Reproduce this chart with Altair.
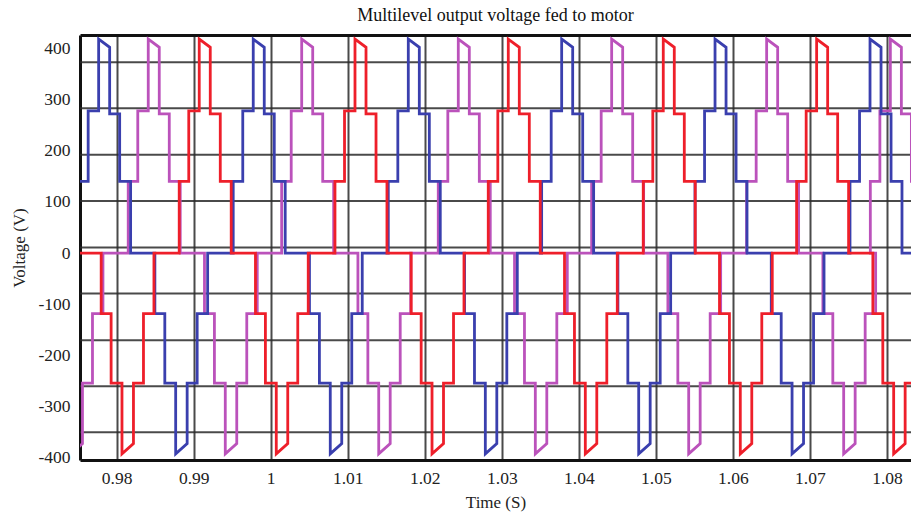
import altair as alt
import pandas as pd

# ---- values ----
TIME_TICKS = [0.98, 0.99, 1.0, 1.01, 1.02, 1.03, 1.04, 1.05, 1.06, 1.07, 1.08]
VOLT_TICKS = [-400, -300, -200, -100, 0, 100, 200, 300, 400]
GRID_VOLTS = [373, 283, 192, 102, 11, -79, -170, -260, -350]

# step pattern of one cycle, times relative to the rising edge of the peak (s)
STEP_OFFSETS = [-0.00260, -0.00136, 0.0, 0.00143, 0.00273, 0.00415,
                0.00730, 0.00859, 0.01000, 0.01149, 0.01279, 0.01415]
LEVEL_START = [140, 278, 418, 272, 140, 0, -118, -254, -392, -254, -118, 0]
LEVEL_END = [140, 278, 402, 272, 140, 0, -118, -254, -372, -254, -118, 0]

# peak rising-edge times of each phase (s)
BLUE_PEAKS = [0.95763, 0.97766, 0.99773, 1.01786, 1.03777, 1.05768, 1.07780]
MAGENTA_PEAKS = [0.96407, 0.98410, 1.00402, 1.02435, 1.04426, 1.06438, 1.08044]
RED_PEAKS = [0.97069, 0.99072, 1.01094, 1.03084, 1.05096, 1.07087]

PHASES = [("magenta", MAGENTA_PEAKS), ("blue", BLUE_PEAKS), ("red", RED_PEAKS)]
COLORS = {"blue": "#3a3fae", "magenta": "#bb52bb", "red": "#ee1f2a"}

rows = []
for name, peaks in PHASES:
    k = 0
    for ci, tp in enumerate(peaks):
        n = len(STEP_OFFSETS)
        for i in range(n):
            t0 = tp + STEP_OFFSETS[i]
            if i + 1 < n:
                t1 = tp + STEP_OFFSETS[i + 1]
            elif ci + 1 < len(peaks):
                t1 = peaks[ci + 1] + STEP_OFFSETS[0]
            else:
                t1 = t0 + 0.006
            rows.append({"phase": name, "t": t0, "v": LEVEL_START[i], "k": k}); k += 1
            rows.append({"phase": name, "t": t1, "v": LEVEL_END[i], "k": k}); k += 1
df = pd.DataFrame(rows)

XMIN, XMAX = 0.97524, 1.08312
YMIN, YMAX = -404, 426
FONT = "Liberation Serif"
FRAME = "#111"

x_scale = alt.Scale(domain=[XMIN, XMAX], nice=False, zero=False)
y_scale = alt.Scale(domain=[YMIN, YMAX], nice=False, zero=False)

y_axis = alt.Axis(values=VOLT_TICKS, title="Voltage (V)",
                  labelExpr="'' + datum.value",
                  grid=False, ticks=False, domain=True,
                  domainColor=FRAME, domainWidth=3,
                  labelPadding=10, titlePadding=9)

x_axis_bottom = alt.Axis(values=TIME_TICKS, title="Time (S)",
                         labelExpr="'' + datum.value",
                         grid=True, gridColor="#2a2a2a", gridWidth=2,
                         gridOpacity=0.85, ticks=False, domain=True,
                         domainColor=FRAME, domainWidth=3,
                         labelPadding=9, titlePadding=8)

x_axis_top = alt.Axis(orient="top", values=TIME_TICKS, title=None,
                      labels=False, ticks=False, grid=False, domain=True,
                      domainColor=FRAME, domainWidth=3)

grid = alt.Chart(pd.DataFrame({"g": GRID_VOLTS})).mark_rule(
    color="#2a2a2a", strokeWidth=2, opacity=0.85
).encode(y=alt.Y("g:Q", scale=y_scale, axis=y_axis))

x_axes = {"magenta": x_axis_bottom, "blue": x_axis_top, "red": None}

lines = []
for name, _ in PHASES:
    lines.append(
        alt.Chart(df[df.phase == name]).mark_line(
            color=COLORS[name], strokeWidth=2.8, clip=True, strokeJoin="miter"
        ).encode(
            x=alt.X("t:Q", scale=x_scale, axis=x_axes[name]),
            y=alt.Y("v:Q", scale=y_scale, axis=y_axis),
            order="k:Q",
        )
    )

chart = alt.layer(grid, *lines).resolve_axis(x="independent").properties(
    width=831, height=425,
    title=alt.TitleParams("Multilevel output voltage fed to motor",
                          fontSize=18, font=FONT, fontWeight="normal",
                          color="#111", offset=10),
    autosize=alt.AutoSizeParams(type="none"),
    padding={"left": 80, "top": 35, "right": 0, "bottom": 59},
).configure_view(
    strokeWidth=0
).configure_axis(
    labelFont=FONT, titleFont=FONT, labelFontSize=17.5, titleFontSize=17,
    labelColor="#222", titleColor="#222", titleFontWeight="normal"
)

chart.save("out.html", embed_options={"renderer": "svg", "actions": False})
